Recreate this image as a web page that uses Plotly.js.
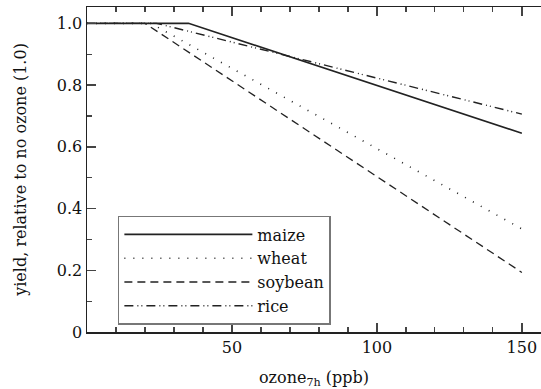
<!DOCTYPE html>
<html>
<head>
<meta charset="utf-8">
<script src="https://cdn.plot.ly/plotly-3.0.1.min.js"></script>
<style>html,body{margin:0;padding:0;background:#fff;}#chart{width:541px;height:389px;}</style>
</head>
<body>
<div id="chart"></div>
<script>
// Data (ozone in ppb, relative yield)
var crops = ["maize", "wheat", "soybean", "rice"];
var maizeX = [0, 35, 150];
var maizeY = [1.0, 1.0, 0.644];
var wheatX = [0, 22, 150];
var wheatY = [1.0, 1.0, 0.334];
var soybeanX = [0, 20, 150];
var soybeanY = [1.0, 1.0, 0.193];
var riceX = [0, 24, 150];
var riceY = [1.0, 1.0, 0.706];
var xTickVals = [50, 100, 150];
var yTickVals = [0, 0.2, 0.4, 0.6, 0.8, 1.0];
var yTickText = ["0", "0.2", "0.4", "0.6", "0.8", "1.0"];

var FONT = "DejaVu Serif, Liberation Serif, serif";
var INK = "#222";

var xs = [maizeX, wheatX, soybeanX, riceX];
var ys = [maizeY, wheatY, soybeanY, riceY];
var dashes = ["solid", "1px,8px", "8px,5px", "9px,4px,1px,3px,1px,4px"];
var widths = [1.6, 1.6, 1.3, 1.4];

var traces = crops.map(function (name, i) {
  return {
    x: xs[i], y: ys[i], name: name, type: "scatter", mode: "lines",
    line: {color: INK, width: widths[i], dash: dashes[i]}
  };
});

var layout = {
  width: 541, height: 389,
  margin: {l: 87, r: 0, t: 7, b: 57},
  paper_bgcolor: "#fff", plot_bgcolor: "#fff",
  font: {family: FONT, size: 16, color: "#111"},
  showlegend: true,
  legend: {
    x: 0.068, y: 0.357, xanchor: "left", yanchor: "top",
    bordercolor: "#777", borderwidth: 1.5, bgcolor: "#fff",
    font: {family: FONT, size: 16, color: "#111"},
    itemwidth: 128
  },
  xaxis: {
    range: [0, 156.6], showgrid: false, zeroline: false,
    showline: true, linecolor: INK, linewidth: 1.5, mirror: "ticks",
    ticks: "inside", ticklen: 9, tickwidth: 1.5, tickcolor: "#444",
    tickmode: "array", tickvals: xTickVals,
    minor: {tickmode: "linear", tick0: 0, dtick: 10, ticks: "inside", ticklen: 5, tickwidth: 1.2, tickcolor: "#444"},
    tickfont: {family: FONT, size: 16, color: "#111"},
    title: {text: "ozone<sub>7h</sub> (ppb)", font: {family: FONT, size: 16, color: "#111"}, standoff: 20}
  },
  yaxis: {
    range: [0, 1.053], showgrid: false, zeroline: false,
    showline: true, linecolor: INK, linewidth: 1.5, mirror: false,
    ticks: "inside", ticklen: 9, tickwidth: 1.5, tickcolor: "#444",
    tickmode: "array", tickvals: yTickVals, ticktext: yTickText,
    minor: {tickmode: "linear", tick0: 0, dtick: 0.1, ticks: "inside", ticklen: 5, tickwidth: 1.2, tickcolor: "#444"},
    tickfont: {family: FONT, size: 16, color: "#111"},
    title: {text: "yield, relative to no ozone (1.0)", font: {family: FONT, size: 16, color: "#111"}, standoff: 26}
  }
};

Plotly.newPlot("chart", traces, layout, {staticPlot: true, displayModeBar: false});
</script>
</body>
</html>
